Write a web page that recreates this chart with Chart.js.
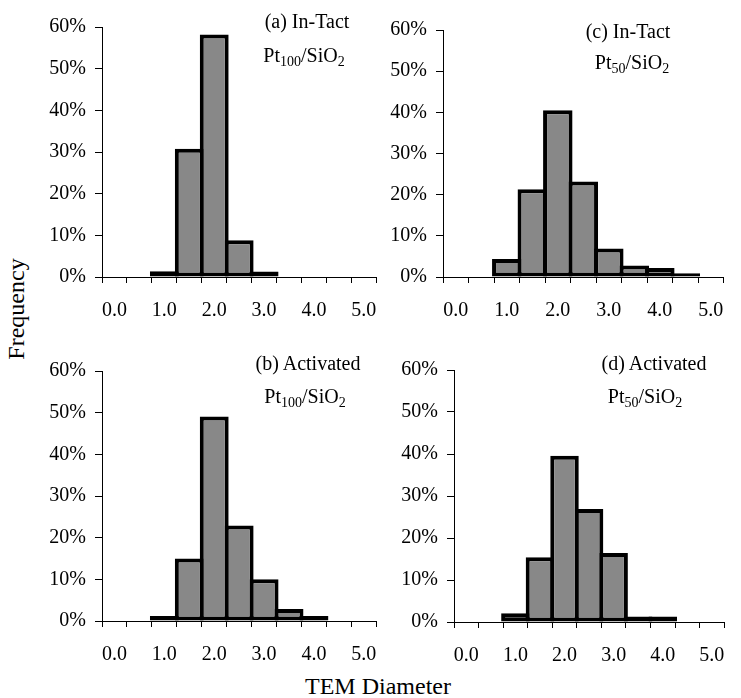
<!DOCTYPE html>
<html lang="en">
<head>
<meta charset="UTF-8">
<title>TEM Diameter Distributions</title>
<script src="https://cdn.jsdelivr.net/npm/chart.js"></script>
<style>
  body { margin: 0; background: #fff; }
  #page { position: relative; width: 741px; height: 698px; overflow: hidden;
          font-family: "Liberation Serif", "Times New Roman", serif; color: #000; }
  .panel { position: absolute; }
  .note { position: absolute; width: 200px; margin-left: -100px; text-align: center;
          font-size: 20px; line-height: 20px; white-space: nowrap; }
  .note sub { font-size: 14px; vertical-align: baseline; position: relative; top: 4px; }
  .axis-title { position: absolute; font-size: 24px; line-height: 24px; text-align: center; white-space: nowrap; }
</style>
</head>
<body>
<div id="page">
  <div class="panel" id="boxA"><canvas id="chartA"></canvas></div>
  <div class="panel" id="boxB"><canvas id="chartB"></canvas></div>
  <div class="panel" id="boxC"><canvas id="chartC"></canvas></div>
  <div class="panel" id="boxD"><canvas id="chartD"></canvas></div>

  <div class="note" style="left:307px; top:11px;">(a) In-Tact</div>
  <div class="note" style="left:304px; top:45px;">Pt<sub>100</sub>/SiO<sub>2</sub></div>
  <div class="note" style="left:628px; top:21px;">(c) In-Tact</div>
  <div class="note" style="left:632px; top:52px;">Pt<sub>50</sub>/SiO<sub>2</sub></div>
  <div class="note" style="left:308px; top:353px;">(b) Activated</div>
  <div class="note" style="left:305px; top:386px;">Pt<sub>100</sub>/SiO<sub>2</sub></div>
  <div class="note" style="left:654px; top:353px;">(d) Activated</div>
  <div class="note" style="left:645px; top:386px;">Pt<sub>50</sub>/SiO<sub>2</sub></div>

  <div class="axis-title" style="left:-84px; top:297px; width:200px; transform:rotate(-90deg);">Frequency</div>
  <div class="axis-title" style="left:228px; top:674px; width:300px;">TEM Diameter</div>
</div>

<script>
// bin centres (nm) and the ones that get a label
const diameters = ['0.0', '0.5', '1.0', '1.5', '2.0', '2.5', '3.0', '3.5', '4.0', '4.5', '5.0'];
const labelledDiameters = ['0.0', '1.0', '2.0', '3.0', '4.0', '5.0'];

// frequency (%) per bin
const intactPt100    = [0, 0, 1.4, 30.8, 58.2, 8.8, 1.3, 0, 0, 0, 0];
const activatedPt100 = [0, 0, 1.2, 15.0, 49.1, 22.9, 10.0, 2.9, 1.2, 0, 0];
const intactPt50     = [0, 0, 4.4, 21.3, 40.5, 23.2, 6.9, 2.8, 2.2, 0.9, 0];
const activatedPt50  = [0, 0, 2.1, 15.4, 39.6, 26.9, 16.4, 1.3, 1.3, 0, 0];

const freqMax = 60;
const freqStep = 10;

const AXIS_W = 70, AXIS_H = 50, PAD_T = 14, PAD_R = 14;
const BORDER = 4;

Chart.defaults.font.family = '"Liberation Serif", "Times New Roman", serif';
Chart.defaults.font.size = 20;
Chart.defaults.color = '#000';

function makePanel(boxId, canvasId, values, area) {
  const box = document.getElementById(boxId);
  const w = area.right - area.left;
  const h = area.bottom - area.top;
  box.style.left = (area.left - AXIS_W) + 'px';
  box.style.top = (area.top - PAD_T) + 'px';
  box.style.width = (w + AXIS_W + PAD_R) + 'px';
  box.style.height = (h + PAD_T + AXIS_H) + 'px';

  // widen bars by one border so neighbouring outlines overlap instead of doubling
  const binW = w / diameters.length;

  return new Chart(document.getElementById(canvasId), {
    type: 'bar',
    data: {
      labels: diameters,
      datasets: [{
        data: values,
        backgroundColor: '#888888',
        borderColor: '#000',
        borderWidth: BORDER,
        borderSkipped: false,
        barPercentage: (binW + BORDER) / binW,
        categoryPercentage: 1
      }]
    },
    options: {
      responsive: true,
      maintainAspectRatio: false,
      animation: false,
      layout: { padding: { top: PAD_T, right: PAD_R, left: 0, bottom: 0 } },
      plugins: { legend: { display: false }, tooltip: { enabled: false } },
      scales: {
        x: {
          type: 'category',
          grid: { drawOnChartArea: false, tickLength: 6, color: '#000', lineWidth: 1 },
          border: { color: '#000', width: 1 },
          ticks: {
            autoSkip: false,
            maxRotation: 0,
            padding: 16,
            callback: (v, i) => labelledDiameters.includes(diameters[i]) ? diameters[i] : ''
          },
          afterFit: s => { s.height = AXIS_H; }
        },
        y: {
          min: 0,
          max: freqMax,
          grid: { drawOnChartArea: false, tickLength: 7, color: '#000', lineWidth: 1 },
          border: { color: '#000', width: 1 },
          ticks: { stepSize: freqStep, padding: 9, callback: v => v + '%' },
          afterFit: s => { s.width = AXIS_W; }
        }
      }
    }
  });
}

makePanel('boxA', 'chartA', intactPt100,    { left: 102, right: 379, top: 20,  bottom: 277 });
makePanel('boxC', 'chartC', intactPt50,     { left: 443, right: 726, top: 23,  bottom: 277 });
makePanel('boxB', 'chartB', activatedPt100, { left: 102, right: 379, top: 364, bottom: 621 });
makePanel('boxD', 'chartD', activatedPt50,  { left: 454, right: 727, top: 363, bottom: 622 });
</script>
</body>
</html>
